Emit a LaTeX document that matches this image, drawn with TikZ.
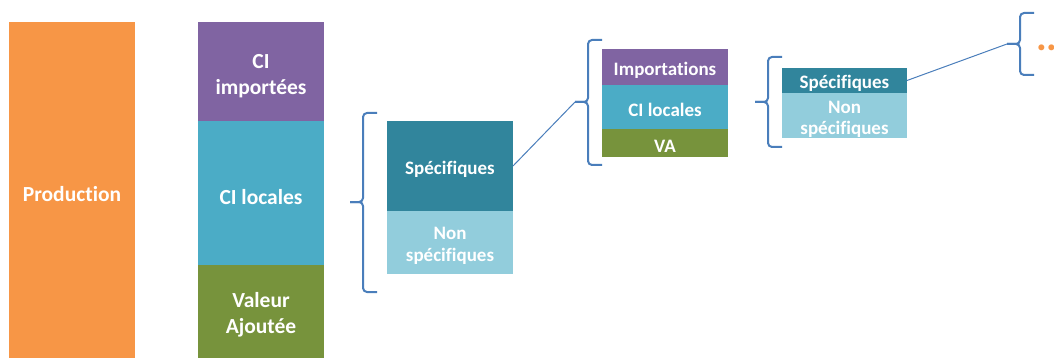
\documentclass[tikz,border=0pt]{standalone}
\usepackage{fontspec}
\setmainfont{Carlito}[Ligatures=NoCommon]
\usetikzlibrary{positioning,calc}
\definecolor{Prod}{HTML}{F79646}
\definecolor{Imp}{HTML}{8064A2}
\definecolor{Loc}{HTML}{4BACC6}
\definecolor{VaGreen}{HTML}{77933C}
\definecolor{Spec}{HTML}{31859C}
\definecolor{NonSpec}{HTML}{92CDDC}
\definecolor{BraceBlue}{HTML}{4A7EBB}

% strut that sets the text a little lower in its box
\newcommand{\lift}{\rule{0pt}{1.05em}}
% left curly brace: x of stem, top, middle, bottom, name of its tip
\newcommand{\accolade}[5]{%
  \coordinate (#5) at ({#1-13},#3);
  \draw[accolade] ({#1+14},#2) -- (#1,#2) -- (#1,#3) -- (#5);
  \draw[accolade] ({#1+14},#4) -- (#1,#4) -- (#1,#3) -- (#5);}

\begin{document}
\begin{tikzpicture}[x=1pt,y=-1pt]
\tikzset{block/.style={inner sep=0pt,outer sep=0pt,minimum width=126pt,align=center,text=white,font=\bfseries\fontsize{21.5}{26}\selectfont},
  small/.style={font=\bfseries\fontsize{19}{22}\selectfont},
  accolade/.style={draw=BraceBlue,line width=2pt,rounded corners=4pt},
  link/.style={draw=BraceBlue,line width=1pt}}
\useasboundingbox (0,0) rectangle (1054,358);
% first level
\node[block,anchor=north west,fill=Prod,minimum height=336pt] (prod) at (9,22) {\lift Production};
\node[block,anchor=north west,fill=Imp,minimum height=99pt] (ciimp) at (198,22) {\lift CI\\importées};
\node[block,below=0pt of ciimp,fill=Loc,minimum height=144pt] (ciloc) {\lift CI locales};
\node[block,below=0pt of ciloc,fill=VaGreen,minimum height=93pt] (va) {\lift Valeur\\Ajoutée};
% second level
\accolade{363}{113}{202}{292}{b1}
\node[block,small,anchor=north west,fill=Spec,minimum height=90pt] (spec) at (387,121) {\lift Spécifiques};
\node[block,small,below=0pt of spec,fill=NonSpec,minimum height=63pt] (nonspec) {\lift Non\\spécifiques};
% third level
\accolade{588}{40}{102}{165}{b2}
\node[block,small,anchor=north west,fill=Imp,minimum height=36pt] (imp) at (602,49) {\lift Importations};
\node[block,small,below=0pt of imp,fill=Loc,minimum height=44pt] (loc) {\lift CI locales};
\node[block,small,below=0pt of loc,fill=VaGreen,minimum height=28pt] (vab) {\lift VA};
\draw[link] (spec.east) -- (b2);
% fourth level
\accolade{768}{57}{102}{147}{b3}
\node[block,small,anchor=north west,fill=Spec,minimum width=125pt,minimum height=25pt] (specb) at (782,68) {\lift Spécifiques};
\node[block,small,below=0pt of specb,fill=NonSpec,minimum width=125pt,minimum height=45pt,font=\bfseries\fontsize{19}{20.5}\selectfont] (nonspecb) {\lift Non\\spécifiques};
% and so on
\accolade{1020}{13}{44}{75}{b4}
\draw[link] (specb.east) -- (b4);
\node[inner sep=0pt,anchor=base west,text=Prod,font=\bfseries\fontsize{40}{40}\selectfont] (etc) at (1036,51) {...};
\end{tikzpicture}
\end{document}
